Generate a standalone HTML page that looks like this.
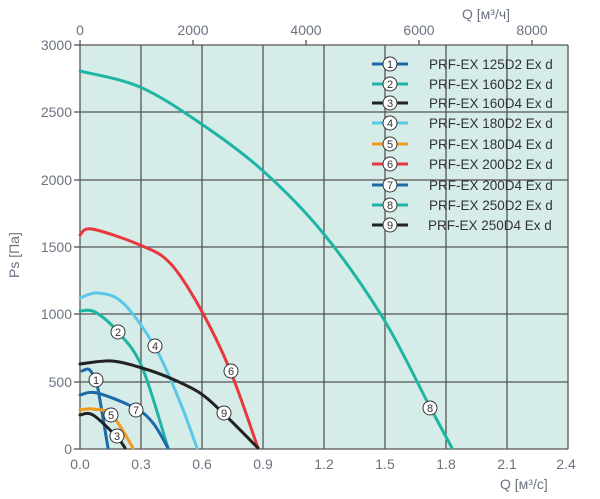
<!DOCTYPE html><html><head><meta charset="utf-8"><style>body{margin:0;background:#fff}svg{display:block;font-family:"Liberation Sans","DejaVu Sans",sans-serif}</style></head><body>
<svg id="s" width="600" height="499" viewBox="0 0 600 499">
<rect x="80" y="45" width="488" height="404" fill="#d6ece8"/>
<g stroke="#555" stroke-width="1.3">
<line x1="141" y1="45" x2="141" y2="449"/><line x1="202" y1="45" x2="202" y2="449"/><line x1="263" y1="45" x2="263" y2="449"/><line x1="324" y1="45" x2="324" y2="449"/><line x1="385" y1="45" x2="385" y2="449"/><line x1="446" y1="45" x2="446" y2="449"/><line x1="507" y1="45" x2="507" y2="449"/><line x1="568" y1="45" x2="568" y2="449"/>
<line x1="80" y1="112" x2="568" y2="112"/><line x1="80" y1="180" x2="568" y2="180"/><line x1="80" y1="247" x2="568" y2="247"/><line x1="80" y1="314" x2="568" y2="314"/><line x1="80" y1="382" x2="568" y2="382"/>
<line x1="80" y1="45" x2="568" y2="45"/><line x1="80" y1="449" x2="568" y2="449"/><line x1="80" y1="40" x2="80" y2="449"/>
<line x1="74" y1="45" x2="80" y2="45"/><line x1="74" y1="112" x2="80" y2="112"/><line x1="74" y1="180" x2="80" y2="180"/><line x1="74" y1="247" x2="80" y2="247"/><line x1="74" y1="314" x2="80" y2="314"/><line x1="74" y1="382" x2="80" y2="382"/><line x1="74" y1="449" x2="80" y2="449"/>
<line x1="193" y1="40" x2="193" y2="45"/><line x1="306" y1="40" x2="306" y2="45"/><line x1="419" y1="40" x2="419" y2="45"/><line x1="532" y1="40" x2="532" y2="45"/>
</g>
<g fill="#6b7280" font-size="14">
<g text-anchor="end"><text x="72" y="50">3000</text><text x="72" y="117">2500</text><text x="72" y="185">2000</text><text x="72" y="252">1500</text><text x="72" y="319">1000</text><text x="72" y="387">500</text><text x="72" y="454">0</text></g>
<g text-anchor="middle"><text x="80" y="469">0.0</text><text x="141" y="469">0.3</text><text x="202" y="469">0.6</text><text x="263" y="469">0.9</text><text x="324" y="469">1.2</text><text x="385" y="469">1.5</text><text x="446" y="469">1.8</text><text x="507" y="469">2.1</text><text x="566" y="469">2.4</text>
<text x="80" y="35">0</text><text x="193" y="35">2000</text><text x="306" y="35">4000</text><text x="419" y="35">6000</text><text x="532" y="35">8000</text></g>
<text x="500" y="489">Q [м³/с]</text><text x="462" y="19">Q [м³/ч]</text>
<text transform="translate(19,278) rotate(-90)">Ps [Па]</text>
</g>
<g id="curves" fill="none" stroke-width="3" stroke-linecap="round" stroke-linejoin="round"></g>
<g font-size="11" text-anchor="middle" fill="#333" stroke-width="1">
<g stroke="#333"><circle cx="96" cy="380" r="7" fill="#fff"/><circle cx="118" cy="332" r="7" fill="#fff"/><circle cx="117" cy="436" r="7" fill="#fff"/><circle cx="155" cy="346" r="7" fill="#fff"/><circle cx="111" cy="415" r="7" fill="#fff"/><circle cx="231" cy="371" r="7" fill="#fff"/><circle cx="136" cy="410" r="7" fill="#fff"/><circle cx="430" cy="408" r="7" fill="#fff"/><circle cx="224" cy="413" r="7" fill="#fff"/></g>
<text x="96" y="384">1</text><text x="118" y="336">2</text><text x="117" y="440">3</text><text x="155" y="350">4</text><text x="111" y="419">5</text><text x="231" y="375">6</text><text x="136" y="414">7</text><text x="430" y="412">8</text><text x="224" y="417">9</text>
</g>
<g font-size="13.5" fill="#333">
<g stroke-width="3">
<line x1="372" y1="64" x2="408" y2="64" stroke="#1d6aa8"/><line x1="372" y1="84" x2="408" y2="84" stroke="#1fb5a5"/><line x1="372" y1="103" x2="408" y2="103" stroke="#222"/><line x1="372" y1="123" x2="408" y2="123" stroke="#5bc8ea"/><line x1="372" y1="144" x2="408" y2="144" stroke="#f39a1e"/><line x1="372" y1="164" x2="408" y2="164" stroke="#e8383d"/><line x1="372" y1="185" x2="408" y2="185" stroke="#1d6aa8"/><line x1="372" y1="205" x2="408" y2="205" stroke="#1fb5a5"/><line x1="372" y1="225" x2="408" y2="225" stroke="#222"/>
</g>
<g stroke="#333" stroke-width="1" fill="#fff"><circle cx="390" cy="64" r="7"/><circle cx="390" cy="84" r="7"/><circle cx="390" cy="103" r="7"/><circle cx="390" cy="123" r="7"/><circle cx="390" cy="144" r="7"/><circle cx="390" cy="164" r="7"/><circle cx="390" cy="185" r="7"/><circle cx="390" cy="205" r="7"/><circle cx="390" cy="225" r="7"/></g>
<g font-size="11" text-anchor="middle"><text x="390" y="68">1</text><text x="390" y="88">2</text><text x="390" y="107">3</text><text x="390" y="127">4</text><text x="390" y="148">5</text><text x="390" y="168">6</text><text x="390" y="189">7</text><text x="390" y="209">8</text><text x="390" y="229">9</text></g>
<text x="429" y="69">PRF-EX 125D2 Ex d</text><text x="429" y="89">PRF-EX 160D2 Ex d</text><text x="429" y="108">PRF-EX 160D4 Ex d</text><text x="429" y="128">PRF-EX 180D2 Ex d</text><text x="429" y="149">PRF-EX 180D4 Ex d</text><text x="429" y="169">PRF-EX 200D2 Ex d</text><text x="429" y="190">PRF-EX 200D4 Ex d</text><text x="429" y="210">PRF-EX 250D2 Ex d</text><text x="428" y="230">PRF-EX 250D4 Ex d</text>
</g>
</svg>
<script>
var C=[
["#1fb5a5",[[80,71],[140,87],[200,123],[262,170],[323,233],[383,318],[430,407],[452,448]]],
["#e8383d",[[80,235],[92,229],[140,245],[170,263],[200,308],[230,370],[258,448]]],
["#1fb5a5",[[80,311],[95,312],[118,332],[142,367],[168,448]]],
["#5bc8ea",[[80,298],[98,293],[123,303],[155,347],[180,402],[197,448]]],
["#222",[[80,364],[112,361],[142,368],[170,378],[200,393],[223,413],[258,448]]],
["#1d6aa8",[[80,395],[97,393],[135,408],[153,423],[168,448]]],
["#1d6aa8",[[82,371],[88,369],[92,373],[97,384],[108,448]]],
["#f39a1e",[[80,410],[93,409],[112,415],[133,448]]],
["#222",[[80,415],[93,415],[117,437],[125,448]]]];
var g=document.getElementById("curves");
C.forEach(function(c){var p=c[1],d="M"+p[0];for(var i=0;i<p.length-1;i++){var a=p[i-1]||p[i],b=p[i],e=p[i+1],f=p[i+2]||e;d+=" C"+(b[0]+(e[0]-a[0])/6)+","+(b[1]+(e[1]-a[1])/6)+" "+(e[0]-(f[0]-b[0])/6)+","+(e[1]-(f[1]-b[1])/6)+" "+e;}
var el=document.createElementNS("http://www.w3.org/2000/svg","path");el.setAttribute("d",d);el.setAttribute("stroke",c[0]);g.appendChild(el);});
</script>
</body></html>
